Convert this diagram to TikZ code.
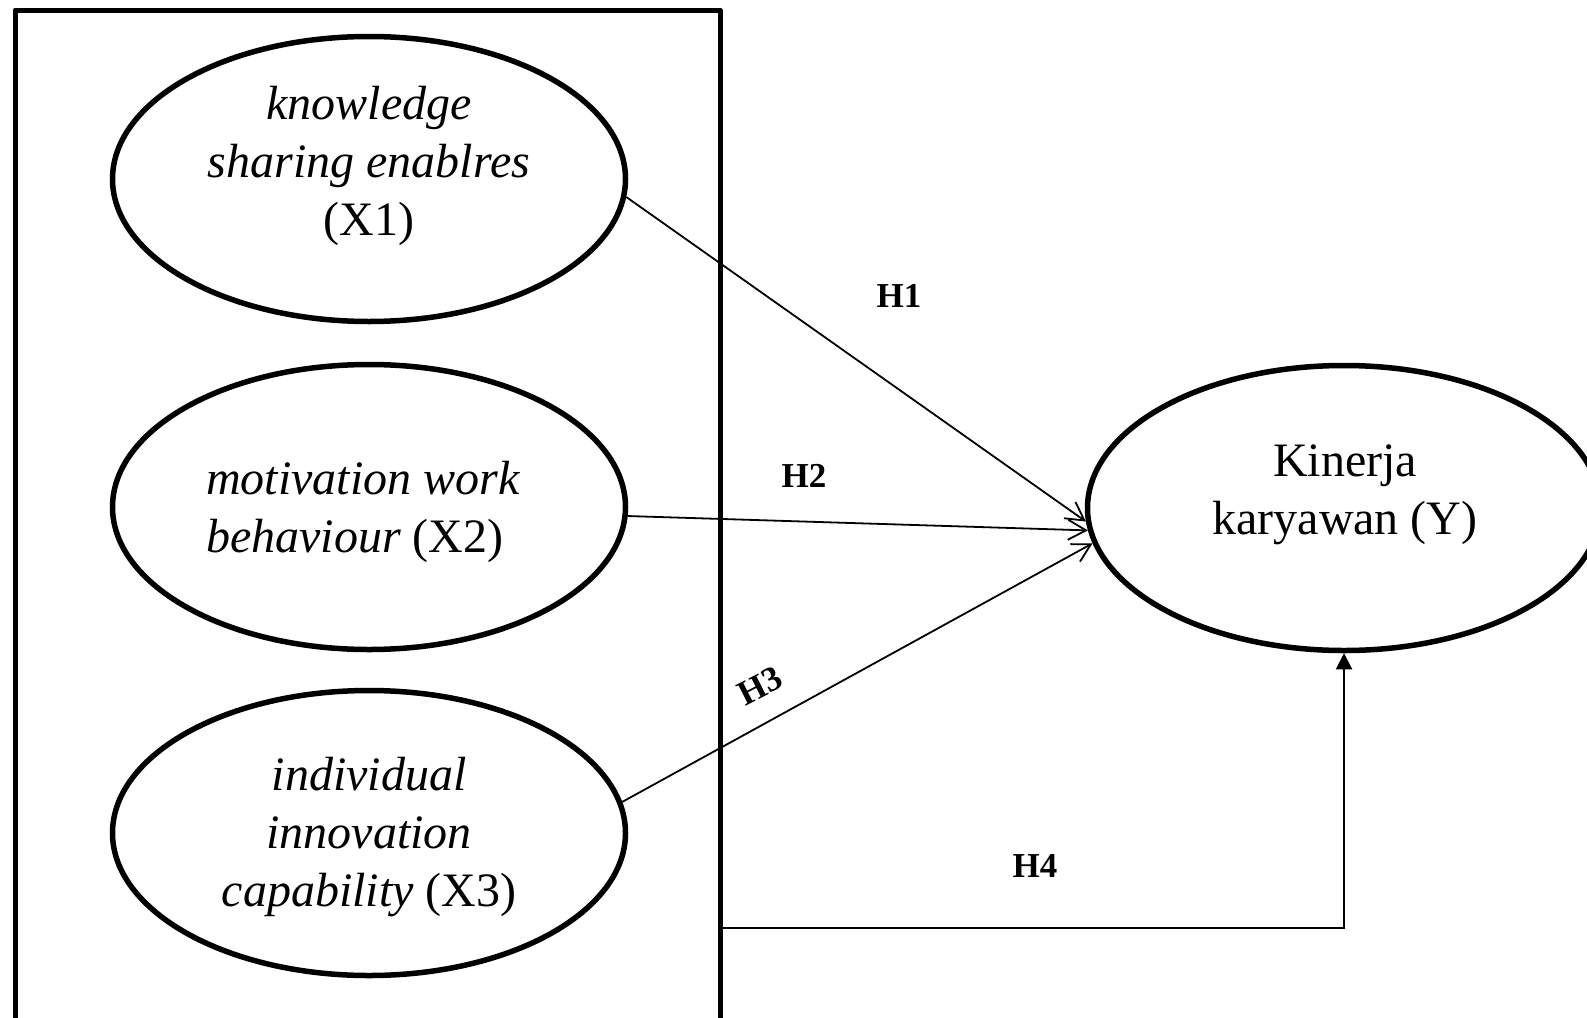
\documentclass[tikz,border=0pt]{standalone}
\usepackage{fontspec}
\setmainfont{Liberation Serif}
\usetikzlibrary{arrows.meta,shapes.geometric}
\begin{document}
\begin{tikzpicture}[x=1pt,y=-1pt,
  latent/.style={draw, ellipse, line width=5.5pt, minimum width=513pt, minimum height=285pt, inner sep=0pt},
  ltext/.style={align=center, font=\fontsize{48}{58}\selectfont, inner sep=0pt},
  hyp/.style={font=\fontsize{35}{42}\selectfont\bfseries, inner sep=0pt},
  hpath/.style={line width=1.8pt, -{Straight Barb[length=18pt,width=20pt,line width=1.8pt]}},
  framebox/.style={draw, line width=5pt, line join=round, inner sep=0pt, minimum width=705pt, minimum height=1100pt, anchor=north west}
]
\clip (0,0) rectangle (1587,1017);
\useasboundingbox (0,0) rectangle (1587,1017);
\fill[white] (0,0) rectangle (1587,1017);

% frame around the independent variables
\node[framebox] (box) at (12.5,7.5) {};

% latent variables
\node[latent] (x1) at (369,179) {};
\node[latent] (x2) at (369,507) {};
\node[latent] (x3) at (369,833) {};
\node[latent] (y)  at (1344,508) {};

% texts
\node[ltext] (t1) at (369,166) {\textit{knowledge}\\ \textit{sharing enablres}\\ (X1)};
\node[ltext, align=left, anchor=west] (t2) at (206,512) {\textit{motivation work}\\ \textit{behaviour} (X2)};
\node[ltext] (t3) at (369,837) {\textit{individual}\\ \textit{innovation}\\ \textit{capability} (X3)};
\node[ltext] (ty) at (1345,495) {Kinerja\\ karyawan (Y)};

% hypotheses paths
\draw[hpath] (x1.-4.9) -- (y.183.3);
\draw[hpath] (x2.-2.7) -- (y.185.8);
\draw[hpath] (x3.7.7) -- (y.188.4);

\coordinate (h4s) at (box.north east |- 0,928);
\draw[line width=2pt, -{Triangle[length=16pt,width=16pt]}] (h4s) -| (y.south);

% labels
\node[hyp] (h1) at (899,296) {H1};
\node[hyp] (h2) at (804,476) {H2};
\node[hyp, rotate=27] (h3) at (760,686) {H3};
\node[hyp] (h4) at (1035,866) {H4};
\end{tikzpicture}
\end{document}
